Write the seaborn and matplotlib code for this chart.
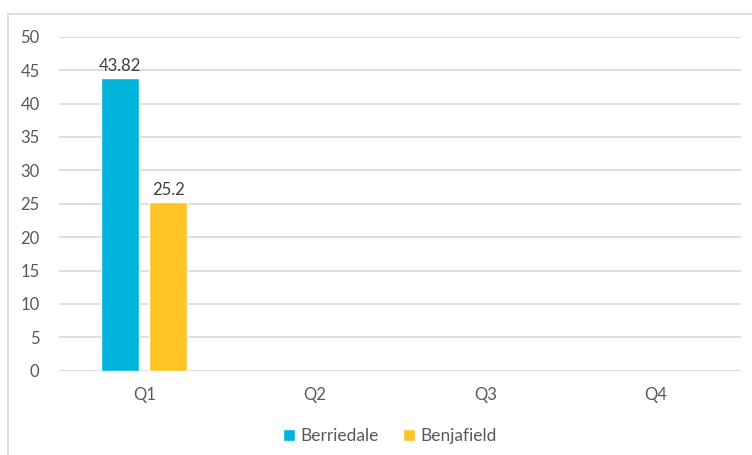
import numpy as np
import pandas as pd
import matplotlib
matplotlib.use("Agg")
import matplotlib.pyplot as plt
from matplotlib.patches import Rectangle
import seaborn as sns

quarters = ["Q1", "Q2", "Q3", "Q4"]
berriedale = [43.82, np.nan, np.nan, np.nan]
benjafield = [25.2, np.nan, np.nan, np.nan]
series_names = ["Berriedale", "Benjafield"]
colors = ["#00B4DC", "#FFC425"]
y_ticks = [0, 5, 10, 15, 20, 25, 30, 35, 40, 45, 50]

df = pd.DataFrame({
    "quarter": quarters * 2,
    "value": berriedale + benjafield,
    "series": [series_names[0]] * 4 + [series_names[1]] * 4,
})

sns.set_style("white")
plt.rcParams["font.family"] = ["Lato", "DejaVu Sans"]
text_color = "#595959"

W, H = 752, 455
fig = plt.figure(figsize=(W / 100, H / 100), dpi=100)
ax = fig.add_axes([59 / W, 1 - 370.7 / H, (741 - 59) / W, (370.7 - 36.7) / H])

sns.barplot(data=df, x="quarter", y="value", hue="series", order=quarters,
            hue_order=series_names, palette=colors, width=0.563, gap=0.208,
            saturation=1, ax=ax, legend=True)

ax.set_ylim(0, 50)
ax.set_xlim(-0.5, 3.5)
ax.set_yticks(y_ticks)
ax.yaxis.grid(True, color="#D9D9D9", linewidth=1.2)
ax.set_axisbelow(True)
for s in ax.spines.values():
    s.set_visible(False)
ax.set_xlabel("")
ax.set_ylabel("")
ax.tick_params(axis="both", length=0, colors=text_color, labelsize=12)
ax.tick_params(axis="y", pad=14)
ax.tick_params(axis="x", pad=12)

for cont in ax.containers:
    labels = ["" if (v is None or np.isnan(v)) else f"{v:g}" for v in cont.datavalues]
    ax.bar_label(cont, labels=labels, padding=3, color="#404040", fontsize=12)

handles, labs = ax.get_legend_handles_labels()
ax.legend(handles, labs, loc="center", bbox_to_anchor=(390 / W, 1 - 436 / H),
          bbox_transform=fig.transFigure, ncol=2, frameon=False,
          handlelength=0.7, handleheight=0.7, handletextpad=0.3, columnspacing=1.4,
          fontsize=12.5, labelcolor=text_color)

fig.patches.append(Rectangle((8 / W, -0.1), 1.2, 1 - 14 / H + 0.1,
                             transform=fig.transFigure, fill=False,
                             edgecolor="#D9D9D9", linewidth=1.2, figure=fig))

fig.savefig("out.png", dpi=100)
